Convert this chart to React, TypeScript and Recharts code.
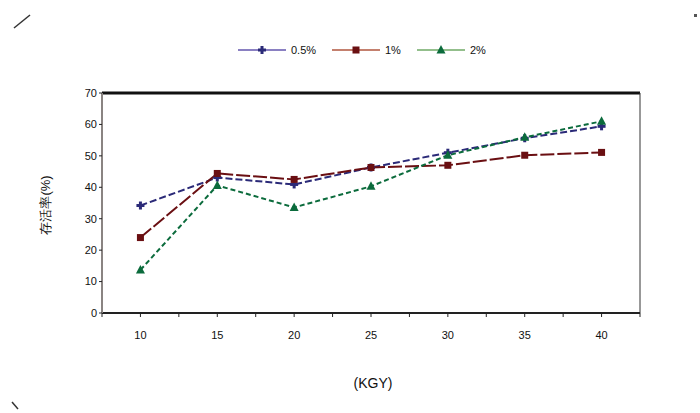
import { LineChart, Line, XAxis, YAxis, ReferenceLine } from 'recharts';

const doses = [10, 15, 20, 25, 30, 35, 40];
const seriesA = [34.2, 43.1, 40.9, 46.3, 51.0, 55.6, 59.4];
const seriesB = [24.0, 44.4, 42.5, 46.3, 47.0, 50.2, 51.1];
const seriesC = [13.7, 40.6, 33.6, 40.3, 50.2, 55.9, 61.0];
const seriesNames = ['0.5%', '1%', '2%'];
const xTicks = [7.5, 10, 12.5, 15, 17.5, 20, 22.5, 25, 27.5, 30, 32.5, 35, 37.5, 40, 42.5];
const yTicks = [0, 10, 20, 30, 40, 50, 60, 70];

const COLORS = ['#2b2a78', '#6a0f12', '#0b6b3c'];
const LEGEND_LINE = ['#8a80c2', '#c4806e', '#93bf8c'];
const FONT = '"Liberation Sans", Arial, sans-serif';

const data = doses.map((d, i) => ({ dose: d, a: seriesA[i], b: seriesB[i], c: seriesC[i] }));

const PlusDot = (props: any) => {
  const { cx, cy, fill } = props;
  if (cx == null || cy == null) return null;
  return (
    <g>
      <rect x={cx - 4} y={cy - 1.5} width={8} height={3} fill={fill} />
      <rect x={cx - 1.5} y={cy - 4} width={3} height={8} fill={fill} />
    </g>
  );
};

const SquareDot = (props: any) => {
  const { cx, cy, fill } = props;
  if (cx == null || cy == null) return null;
  return <rect x={cx - 3.5} y={cy - 3.5} width={7} height={7} fill={fill} />;
};

const TriDot = (props: any) => {
  const { cx, cy, fill } = props;
  if (cx == null || cy == null) return null;
  return <polygon points={`${cx},${cy - 5} ${cx + 4.5},${cy + 3.5} ${cx - 4.5},${cy + 3.5}`} fill={fill} />;
};

const markers = [PlusDot, SquareDot, TriDot];

const LegendBox = () => (
  <svg width={280} height={20}>
    {seriesNames.map((name, i) => {
      const x0 = [0, 94, 179][i];
      const M = markers[i];
      return (
        <g key={name}>
          <line x1={x0} x2={x0 + 48} y1={10} y2={10} stroke={LEGEND_LINE[i]} strokeWidth={2} />
          <M cx={x0 + 24} cy={10} fill={COLORS[i]} />
          <text x={x0 + 53} y={14} fontSize={11} fontFamily={FONT} fill="#111">{name}</text>
        </g>
      );
    })}
  </svg>
);

export default function App() {
  return (
    <div style={{ position: 'absolute', left: 0, top: 0, width: 700, height: 413, background: '#fff' }}>
      <LineChart width={700} height={413} data={data} margin={{ top: 93, right: 60, left: 62, bottom: 60 }}>
        <XAxis
          dataKey="dose"
          type="number"
          domain={[7.5, 42.5]}
          ticks={xTicks}
          interval={0}
          tickFormatter={(v: number) => (v % 5 === 0 ? String(v) : '')}
          tick={{ fontSize: 11, fill: '#111', fontFamily: FONT }}
          axisLine={{ stroke: '#222', strokeWidth: 2 }}
          tickLine={{ stroke: '#222' }}
          tickSize={4}
          tickMargin={14}
          height={40}
        />
        <YAxis
          domain={[0, 70]}
          ticks={yTicks}
          interval={0}
          tick={{ fontSize: 11, fill: '#111', fontFamily: FONT }}
          axisLine={{ stroke: '#8a8482', strokeWidth: 2 }}
          tickLine={{ stroke: '#222' }}
          tickSize={3}
          width={40}
        />
        <ReferenceLine y={70} stroke="#111" strokeWidth={3} />
        <ReferenceLine x={42.5} stroke="#333" strokeWidth={1} />
        <Line
          dataKey="a"
          name={seriesNames[0]}
          stroke={COLORS[0]}
          strokeWidth={2}
          strokeDasharray="7 3"
          dot={<PlusDot fill={COLORS[0]} />}
          isAnimationActive={false}
        />
        <Line
          dataKey="b"
          name={seriesNames[1]}
          stroke={COLORS[1]}
          strokeWidth={2}
          strokeDasharray="14 3"
          dot={<SquareDot fill={COLORS[1]} />}
          isAnimationActive={false}
        />
        <Line
          dataKey="c"
          name={seriesNames[2]}
          stroke={COLORS[2]}
          strokeWidth={2}
          strokeDasharray="5 3"
          dot={<TriDot fill={COLORS[2]} />}
          isAnimationActive={false}
        />
        <text x={373} y={388} textAnchor="middle" fontSize={14} fontFamily={FONT} fill="#111">(KGY)</text>
        <text
          x={50}
          y={205}
          textAnchor="middle"
          fontSize={13}
          fontFamily={FONT}
          fill="#111"
          transform="rotate(-90 50 205)"
        >
          存活率(%)
        </text>
        <line x1={14} y1={28} x2={30} y2={15} stroke="#333" strokeWidth={1.5} />
        <line x1={12} y1={402} x2={18} y2={409} stroke="#333" strokeWidth={1.5} />
        <rect x={694} y={14} width={3} height={3} fill="#555" />
      </LineChart>
      <div style={{ position: 'absolute', left: 238, top: 40 }}>
        <LegendBox />
      </div>
    </div>
  );
}
